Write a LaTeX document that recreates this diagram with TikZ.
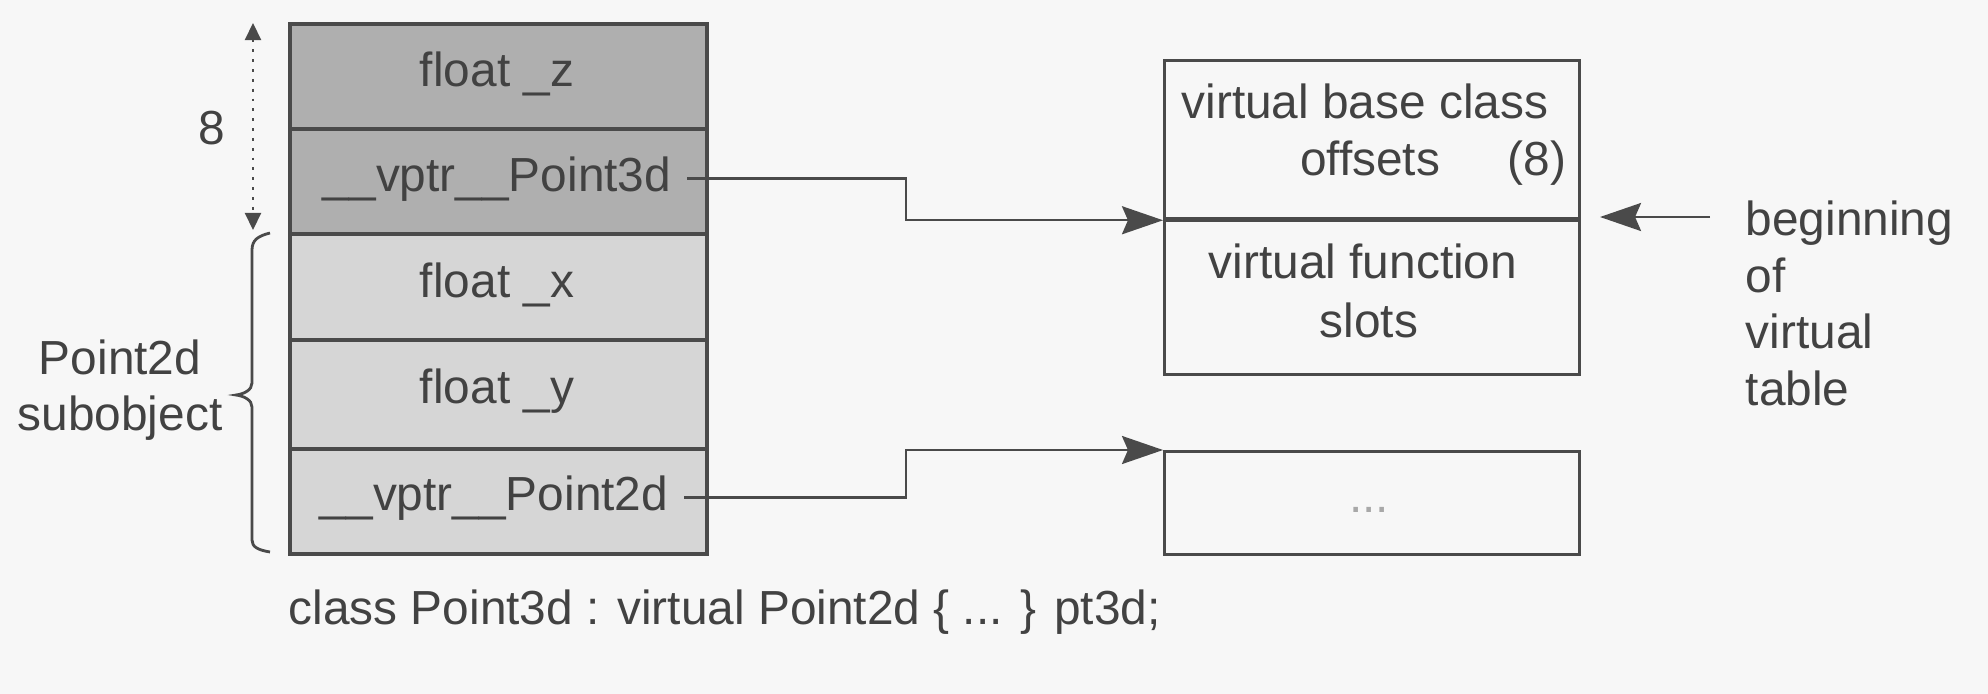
\documentclass[tikz,border=0pt]{standalone}
\usepackage{fontspec}
\setmainfont{Liberation Sans}
\usetikzlibrary{arrows.meta}
\definecolor{bgc}{HTML}{F7F7F7}
\definecolor{linec}{HTML}{4A4A4A}
\definecolor{txtc}{HTML}{424242}
\definecolor{darkcell}{HTML}{AFAFAF}
\definecolor{lightcell}{HTML}{D6D6D6}
\definecolor{dotsc}{HTML}{A8A8A8}
\tikzset{
  every node/.style={font=\fontsize{13.6}{16.2}\selectfont, text=txtc},
  cellbox/.style={draw=linec, line width=1.1pt, minimum width=4.17cm, inner sep=0pt, anchor=north west},
  tablebox/.style={draw=linec, line width=0.9pt, minimum width=4.15cm, inner sep=0pt, anchor=north west},
  lbl/.style={inner sep=0pt, anchor=base},
  lblw/.style={inner sep=0pt, anchor=base west},
  ptrtext/.style={inner sep=0pt, outer xsep=0.16cm, outer ysep=0pt, anchor=base},
  conn/.style={draw=linec, line width=0.7pt, -{Stealth[length=0.41cm, width=0.28cm, inset=0.06cm]}},
  dotarr/.style={draw=linec, line width=0.6pt, dash pattern=on 0.8pt off 2pt, {Triangle[length=0.17cm, width=0.16cm]}-{Triangle[length=0.17cm, width=0.16cm]}},
  bracest/.style={draw=linec, line width=0.8pt}
}
\begin{document}
\begin{tikzpicture}[x=0.01cm, y=-0.01cm]
\useasboundingbox[fill=bgc] (0,0) rectangle (1988,694);

% object layout cells
\node[cellbox, fill=darkcell, minimum height=1.05cm] (cz) at (288,22) {};
\node[cellbox, fill=darkcell, minimum height=1.05cm] (cp3) at (288,127) {};
\node[cellbox, fill=lightcell, minimum height=1.06cm] (cx) at (288,232) {};
\node[cellbox, fill=lightcell, minimum height=1.09cm] (cy) at (288,338) {};
\node[cellbox, fill=lightcell, minimum height=1.05cm] (cp2) at (288,447) {};

\node[lbl] (tz) at (497,86) {float \_z};
\node[ptrtext] (tp3) at (497,191) {\_\_vptr\_\_Point3d};
\node[lbl] (tx) at (497,297) {float \_x};
\node[lbl] (ty) at (497,403) {float \_y};
\node[ptrtext] (tp2) at (494,510) {\_\_vptr\_\_Point2d};

% size marker
\coordinate (d1) at (253,23);
\coordinate (d2) at (253,230);
\draw[dotarr] (d1) -- (d2);
\node[lbl] (eight) at (212,144) {8};

% brace
\draw[bracest] (270,233) .. controls (258,236) and (252,240) .. (252,250) -- (252,383)
  .. controls (252,390) and (244,394) .. (236,395)
  .. controls (244,396) and (252,400) .. (252,407) -- (252,540)
  .. controls (252,547) and (258,550) .. (270,552);
\node[lbl] (sub1) at (120,374) {Point2d};
\node[lbl] (sub2) at (120,430) {subobject};

% virtual table
\node[tablebox, minimum height=1.58cm] (vtop) at (1163,59) {};
\node[tablebox, minimum height=1.56cm] (vbot) at (1163,217) {};
\draw[linec, line width=1.2pt] (vtop.south west) -- (vtop.south east);
\node[lbl] (vt1) at (1365,118) {virtual base class};
\node[lbl] (vt2) at (1370,175) {offsets};
\node[lbl] (vt3) at (1537,175) {(8)};
\node[lbl] (vt4) at (1363,278) {virtual function};
\node[lbl] (vt5) at (1369,337) {slots};

\node[tablebox, minimum height=1.03cm] (ell) at (1163,450) {};
\node[lbl, text=dotsc] (elltxt) at (1369,512) {...};

% connectors
\coordinate (bend) at (906,0);
\draw[conn] (tp3.east) -| (bend |- vtop.south west) -- (vtop.south west);
\draw[conn] (tp2.east) -| (bend |- ell.north west) -- (ell.north west);

\coordinate (bt) at (1710,217);
\coordinate (bh) at (1600,217);
\draw[conn] (bt) -- (bh);
\node[lblw] (bg1) at (1745,235) {beginning};
\node[lblw] (bg2) at (1745,292) {of};
\node[lblw] (bg3) at (1745,348) {virtual};
\node[lblw] (bg4) at (1745,405) {table};

% caption
\node[lblw] (cap) at (288,624) {class Point3d : virtual Point2d \{ ... \} pt3d;};
\end{tikzpicture}
\end{document}
